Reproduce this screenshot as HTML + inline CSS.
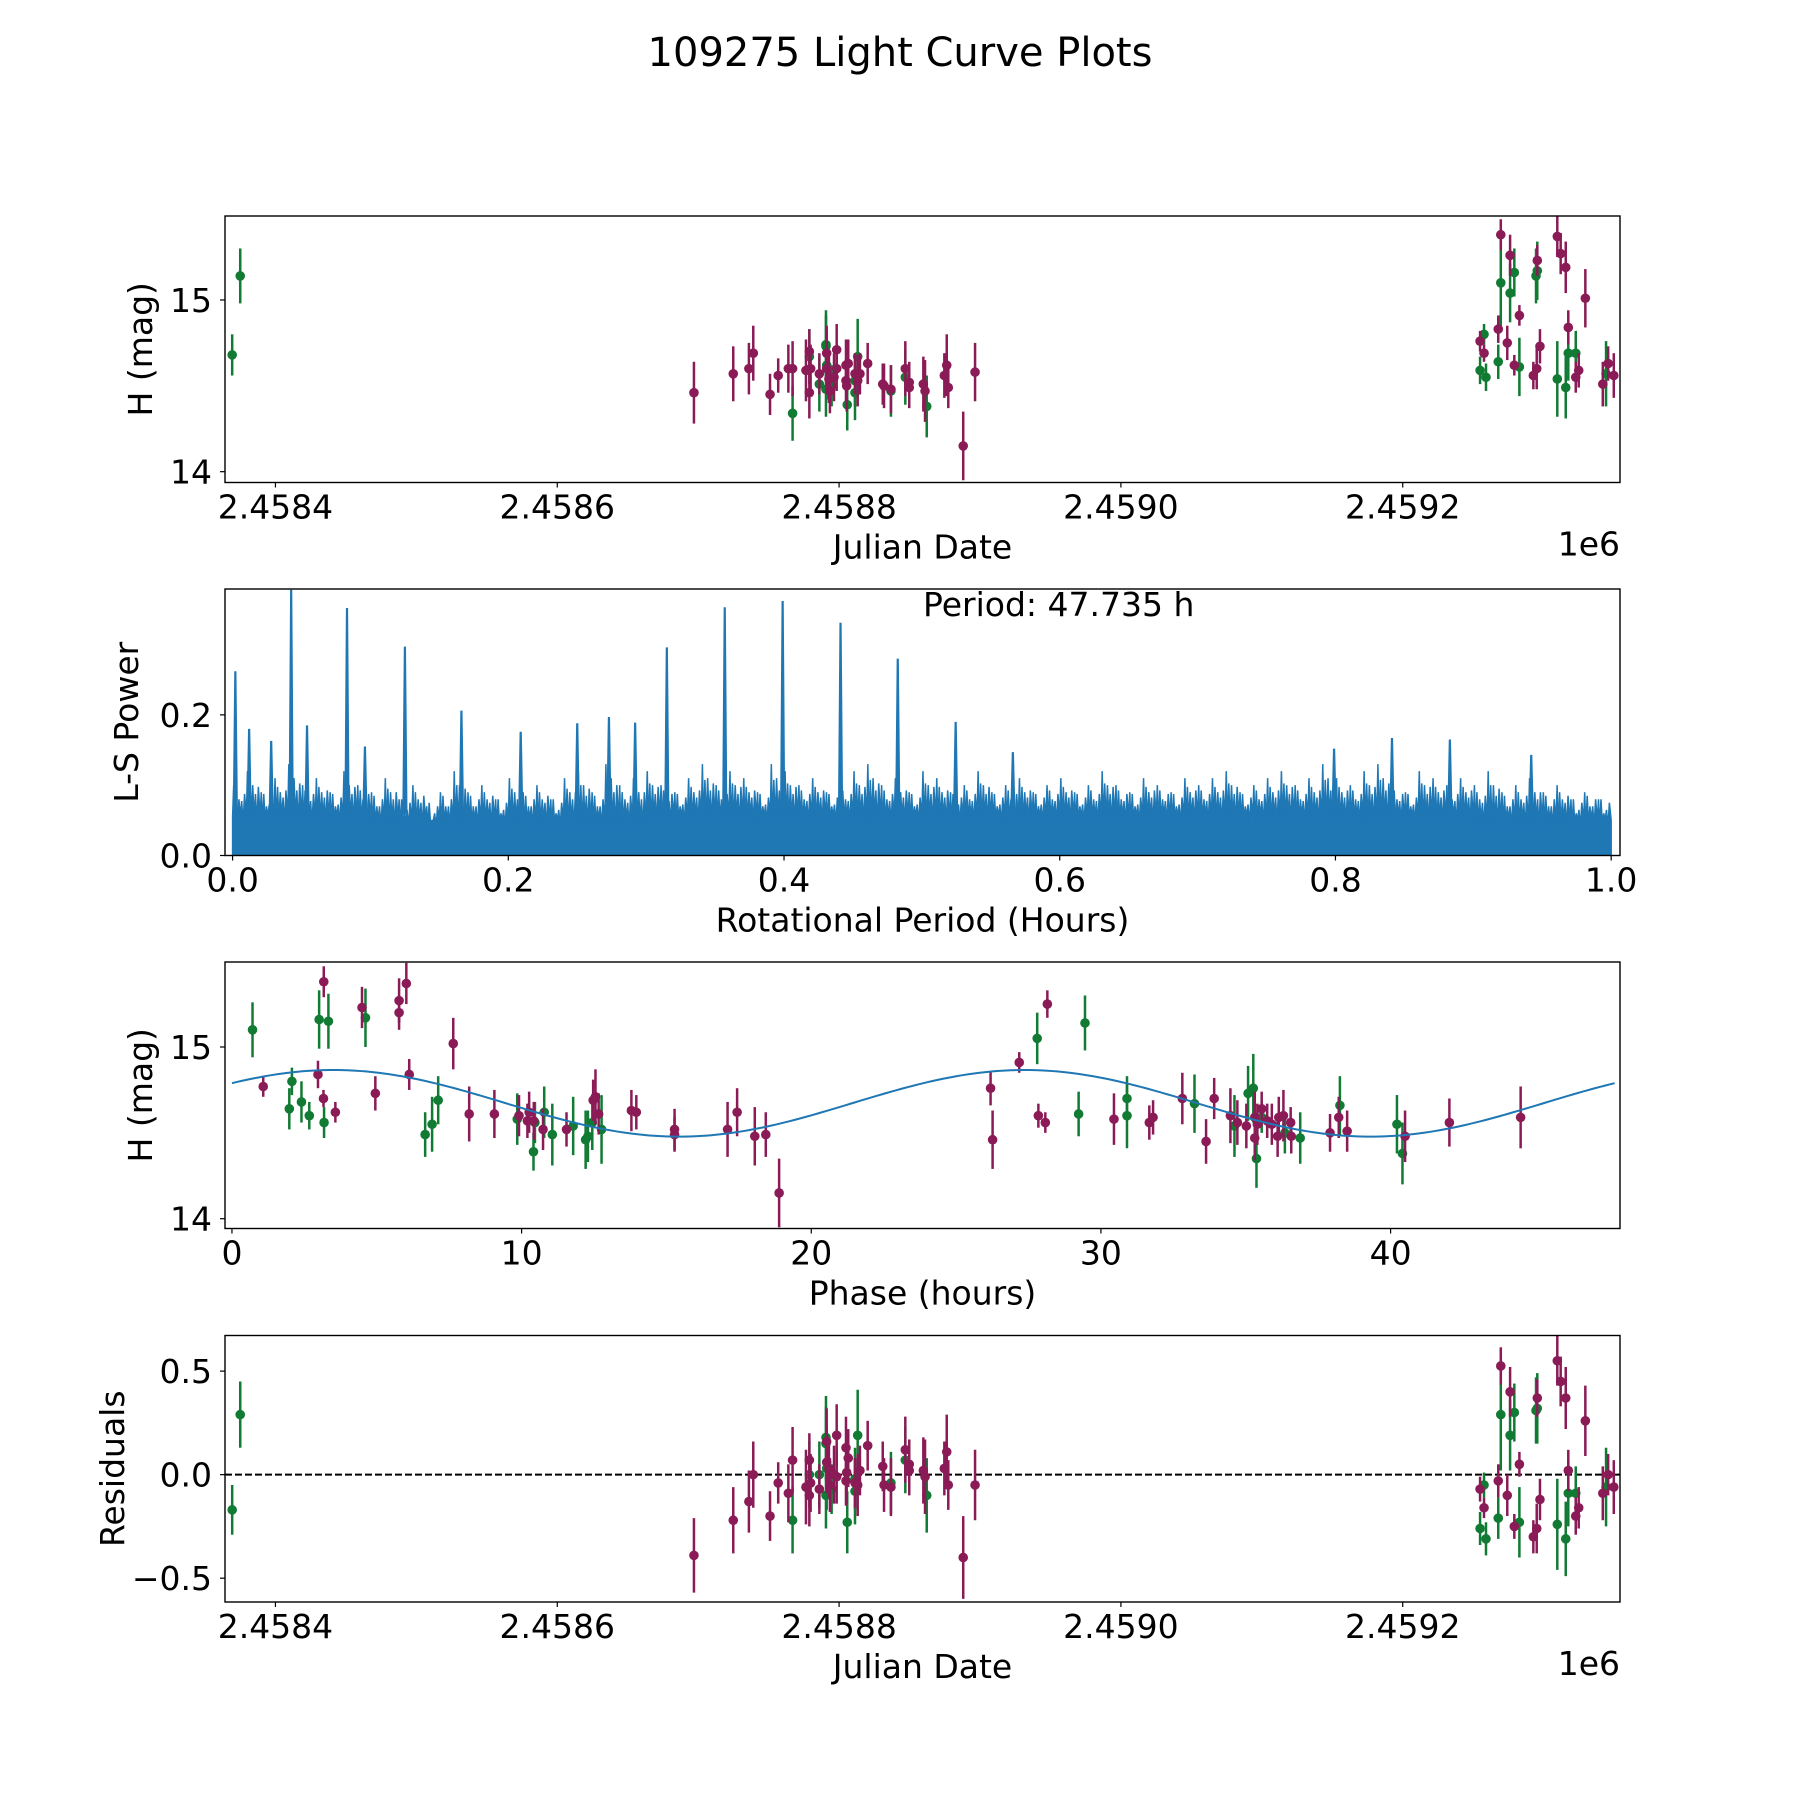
<!DOCTYPE html>
<html><head><meta charset="utf-8"><title>109275 Light Curve Plots</title>
<style>
html,body{margin:0;padding:0;background:#fff;}
svg{display:block;font-family:"DejaVu Sans","Liberation Sans",sans-serif;}
</style></head>
<body>
<svg id="fig" width="1800" height="1800" viewBox="0 0 1800 1800" xmlns="http://www.w3.org/2000/svg">
<rect width="1800" height="1800" fill="#fff"/>
<text x="900" y="66" font-size="40" text-anchor="middle" fill="#000">109275 Light Curve Plots</text>
</svg>
<script>
// ---------- DATA ----------
const lcBand = ["g","g",
"m","m","m","m","m","m","m","m","g","m","g","m","m","m","m","g","g","g","m","g","m","g","m","m","g","m","m","m","m","m","m","m","g","g","m","g","g","m","m","m","m","m","g","m","g","m","m","m","m","m","g","m","m","m","m","m",
"m","g","m","g","g","m","m","g","g","m","m","m","m","m","g","g","m","m","g","g","m","m","m","g","m","m","m","g","g","m","g","m","g","m","g","m","m"];
const lcDay = [-30.7,-25.0,
297,324.9,336,339.1,351,356.8,364,367,367,378.9,378.9,376.5,379.8,378.9,386,386,390.7,390.7,391.2,391.2,391.2,390.7,393.5,392.8,394.7,396.4,398.3,398.3,404.9,406.5,404.9,405.4,405.8,411.3,411.3,411.3,413.2,414.8,413.2,420.3,431,431.9,436.8,436.8,447,447,449.8,449.8,459.8,461,462.2,474.7,476.4,477.5,488.1,496.5,
869.6,869.6,876.2,876.2,879.2,882.8,895.5,895.5,894.6,909.7,912.1,915.7,929.6,917.5,917.5,922.8,924.9,922.8,909.7,915.7,897.4,895.1,892.7,882.8,879.2,874.2,867.8,867.8,859.1,857.7,857.7,854.9,854.9,942,944.3,945.8,949.8];
const lcMag = [14.68,15.14,
14.46,14.57,14.60,14.69,14.45,14.56,14.60,14.60,14.34,14.70,14.67,14.59,14.60,14.46,14.57,14.51,14.74,14.73,14.69,14.62,14.60,14.48,14.47,14.54,14.50,14.55,14.71,14.60,14.62,14.63,14.53,14.50,14.39,14.46,14.57,14.53,14.67,14.57,14.53,14.63,14.51,14.50,14.47,14.48,14.55,14.60,14.52,14.49,14.51,14.47,14.38,14.56,14.62,14.49,14.15,14.58,
15.38,15.10,15.26,15.04,15.16,14.91,15.23,15.17,15.14,15.37,15.27,15.19,15.01,14.84,14.69,14.69,14.59,14.55,14.54,14.49,14.73,14.60,14.56,14.61,14.62,14.75,14.83,14.64,14.55,14.69,14.80,14.76,14.59,14.51,14.57,14.63,14.56];
const lcErr = [0.12,0.16,
0.18,0.16,0.15,0.16,0.12,0.10,0.14,0.16,0.16,0.13,0.16,0.18,0.14,0.15,0.12,0.16,0.20,0.18,0.16,0.20,0.15,0.16,0.13,0.14,0.12,0.14,0.15,0.13,0.15,0.14,0.12,0.15,0.15,0.16,0.12,0.15,0.22,0.12,0.15,0.12,0.12,0.13,0.15,0.14,0.16,0.16,0.12,0.12,0.16,0.18,0.18,0.13,0.18,0.12,0.20,0.17,
0.09,0.27,0.12,0.17,0.14,0.06,0.09,0.17,0.16,0.12,0.12,0.15,0.17,0.10,0.16,0.13,0.10,0.09,0.22,0.18,0.10,0.12,0.08,0.17,0.06,0.10,0.08,0.10,0.08,0.05,0.06,0.06,0.08,0.13,0.19,0.10,0.13];
const lcResid = [-0.17,0.29,
-0.39,-0.22,-0.13,0.00,-0.20,-0.04,-0.09,0.07,-0.22,0.07,0.00,-0.06,-0.04,-0.10,-0.07,0.00,0.18,0.15,0.16,0.03,0.06,-0.10,-0.05,0.03,-0.07,0.00,0.19,-0.01,0.13,0.08,-0.03,0.01,-0.23,-0.08,-0.04,-0.02,0.19,0.02,-0.05,0.14,0.04,-0.05,-0.04,-0.06,0.07,0.12,0.05,0.02,0.02,-0.01,-0.10,0.03,0.11,-0.05,-0.40,-0.05,
0.525,0.29,0.40,0.19,0.30,0.05,0.37,0.32,0.31,0.55,0.45,0.37,0.26,0.02,-0.09,-0.09,-0.16,-0.20,-0.24,-0.31,-0.12,-0.26,-0.30,-0.23,-0.25,-0.10,-0.03,-0.21,-0.31,-0.16,-0.05,-0.07,-0.26,-0.09,-0.06,0.00,-0.06];
const jdTicks = [2458400,2458600,2458800,2459000,2459200];
const jdTickLabels = ["2.4584","2.4586","2.4588","2.4590","2.4592"];

const phBand = ["g","m","g","g","g","g","m","g","m","m","g","g","m","m","g","m","m","m","m","m","g","g","g","m","m","m","g","m","m","m","m","g","g","g","m","g","m","g","g","g","g","m","m","m","g","m","m","m","m","m","m","m","m","m",
"m","m","m","g","m","m","m","g","g","m","g","g","m","m","m","g","m","m","m","g","m","m","g","g","m","m","g","m","m","g","m","m","m","m","m","g","m","m","g","m","m","g","m","g","g","m","m","m"];
const phHour = [0.71,1.08,1.98,2.07,2.40,2.67,2.97,3.01,3.17,3.16,3.18,3.33,3.57,4.49,4.61,4.95,5.77,5.77,6.02,6.12,6.67,6.91,7.12,7.64,8.19,9.06,9.85,9.91,10.2,10.26,10.42,10.46,10.41,10.78,10.74,11.06,11.55,11.78,12.21,12.29,12.44,12.47,12.55,12.66,12.76,13.79,13.96,15.28,15.28,17.11,17.44,18.05,18.43,18.89,
26.19,26.26,27.18,27.80,28.15,27.84,28.08,29.23,29.45,30.45,30.90,30.90,31.67,31.80,32.81,33.23,33.63,33.91,34.47,34.61,34.71,35.02,35.08,35.26,35.31,35.31,35.37,35.40,35.55,35.55,35.74,35.90,36.10,36.14,36.30,36.35,36.55,36.57,36.88,37.91,38.21,38.25,38.50,40.22,40.41,40.50,42.03,44.49];
const phMag = [15.10,14.77,14.64,14.80,14.68,14.60,14.84,15.16,15.38,14.70,14.56,15.15,14.62,15.23,15.17,14.73,15.27,15.20,15.37,14.84,14.49,14.55,14.69,15.02,14.61,14.61,14.58,14.60,14.57,14.62,14.57,14.56,14.39,14.62,14.52,14.49,14.52,14.54,14.46,14.48,14.56,14.69,14.71,14.61,14.52,14.63,14.62,14.52,14.49,14.52,14.62,14.48,14.49,14.15,
14.76,14.46,14.91,15.05,15.25,14.60,14.56,14.61,15.14,14.58,14.70,14.60,14.56,14.59,14.70,14.67,14.45,14.70,14.60,14.54,14.56,14.54,14.73,14.76,14.59,14.47,14.35,14.55,14.64,14.59,14.57,14.55,14.48,14.59,14.60,14.50,14.56,14.48,14.47,14.50,14.59,14.66,14.51,14.55,14.38,14.48,14.56,14.59];
const phErr = [0.16,0.06,0.12,0.08,0.12,0.08,0.08,0.17,0.09,0.05,0.09,0.16,0.06,0.12,0.17,0.10,0.13,0.10,0.12,0.09,0.13,0.16,0.14,0.15,0.16,0.14,0.15,0.12,0.10,0.12,0.11,0.12,0.11,0.15,0.12,0.18,0.10,0.17,0.17,0.15,0.16,0.12,0.16,0.12,0.20,0.12,0.10,0.12,0.10,0.16,0.14,0.17,0.13,0.20,
0.10,0.17,0.06,0.15,0.08,0.07,0.06,0.13,0.16,0.15,0.13,0.19,0.10,0.10,0.15,0.17,0.13,0.12,0.16,0.18,0.13,0.13,0.16,0.20,0.15,0.13,0.17,0.12,0.10,0.09,0.10,0.12,0.12,0.12,0.15,0.12,0.09,0.10,0.15,0.11,0.12,0.17,0.12,0.17,0.18,0.15,0.14,0.18];
const phaseTicks = [0,10,20,30,40];
const fitPeriod = 47.735;
const fitMean = 14.672;
const fitAmp = 0.194;
const fitPeakHour = 3.5;

const lsSpikeX = [0.002,0.012,0.028,0.0425,0.054,0.083,0.096,0.125,0.166,0.209,0.250,0.273,0.292,0.315,0.357,0.399,0.441,0.4825,0.5245,0.566,0.799,0.841,0.883,0.942];
const lsSpikeH = [0.262,0.180,0.163,0.378,0.185,0.352,0.155,0.297,0.206,0.176,0.188,0.197,0.189,0.296,0.353,0.362,0.331,0.280,0.190,0.147,0.152,0.167,0.165,0.143];
const lsNoisePeak = [0.10,0.12,0.09,0.11,0.13,0.10,0.11,0.09,0.12,0.10,
0.09,0.11,0.08,0.10,0.07,0.09,0.12,0.09,0.10,0.08,
0.11,0.09,0.10,0.08,0.11,0.12,0.09,0.13,0.10,0.11,
0.12,0.10,0.09,0.11,0.13,0.10,0.12,0.11,0.09,0.13,
0.12,0.10,0.11,0.09,0.10,0.12,0.13,0.10,0.11,0.09,
0.12,0.11,0.09,0.10,0.12,0.09,0.10,0.11,0.09,0.10,
0.11,0.09,0.10,0.12,0.10,0.09,0.11,0.10,0.09,0.11,
0.10,0.11,0.12,0.09,0.10,0.11,0.12,0.10,0.11,0.13,
0.11,0.10,0.12,0.13,0.10,0.09,0.12,0.11,0.10,0.11,
0.10,0.12,0.09,0.10,0.11,0.09,0.10,0.08,0.09,0.08];
const lsBandLevel = [0.055,0.05,0.05,0.055,0.055,0.055,0.055,0.055,0.055,0.05];
const lsXTicks = [0,0.2,0.4,0.6,0.8,1.0];
const lsXTickLabels = ["0.0","0.2","0.4","0.6","0.8","1.0"];
const lsYTicks = [0,0.2];
const lsYTickLabels = ["0.0","0.2"];
const bestPeriodText = "Period: 47.735 h";

// ---------- RENDER ----------
const NS = "http://www.w3.org/2000/svg";
const svg = document.getElementById("fig");
const COL = {m:"#8a1b56", g:"#117a33"};
function mk(tag, attrs, parent){
  const e = document.createElementNS(NS, tag);
  for (const k in attrs) e.setAttribute(k, attrs[k]);
  (parent||svg).appendChild(e);
  return e;
}
function makeAxes(cfg){
  const a = Object.assign({}, cfg);
  a.sx = v => a.l + (v - a.x0) / (a.x1 - a.x0) * (a.r - a.l);
  a.sy = v => a.b - (v - a.y0) / (a.y1 - a.y0) * (a.b - a.t);
  a.g = mk("g", {});
  
  
  const cp = mk("clipPath", {id: cfg.name + "-clip"}, a.g);
  mk("rect", {x: a.l, y: a.t, width: a.r - a.l, height: a.b - a.t}, cp);
  a.plot = mk("g", {"clip-path": "url(#" + cfg.name + "-clip)"}, a.g);
  
  
  return a;
}
function frame(a){
  const r = mk("rect", {x: a.l, y: a.t, width: a.r - a.l, height: a.b - a.t, fill: "none", stroke: "#000", "stroke-width": 1.4}, a.g);
  
  
}
function xTicks(a, vals, labels){
  vals.forEach((v, i) => {
    const x = a.sx(v);
    const t = mk("line", {x1: x, x2: x, y1: a.b, y2: a.b + 5, stroke: "#000", "stroke-width": 1.2}, a.g);
    
    
    const tx = mk("text", {x: x, y: a.b + 36, "font-size": 33, "text-anchor": "middle", fill: "#000"}, a.g);
    tx.textContent = labels[i];
    
    
  });
}
function yTicks(a, vals, labels){
  vals.forEach((v, i) => {
    const y = a.sy(v);
    const t = mk("line", {x1: a.l - 5, x2: a.l, y1: y, y2: y, stroke: "#000", "stroke-width": 1.2}, a.g);
    
    
    const tx = mk("text", {x: a.l - 13, y: y + 12, "font-size": 33, "text-anchor": "end", fill: "#000"}, a.g);
    tx.textContent = labels[i];
    
    
  });
}
function xLabel(a, txt){
  const t = mk("text", {x: (a.l + a.r) / 2, y: a.b + 76, "font-size": 33, "text-anchor": "middle", fill: "#000"}, a.g);
  t.textContent = txt;
  
  
}
function yLabel(a, txt, x){
  const cy = (a.t + a.b) / 2;
  const t = mk("text", {x: x, y: cy, "font-size": 33, "text-anchor": "middle", fill: "#000", transform: "rotate(-90 " + x + " " + cy + ")"}, a.g);
  t.textContent = txt;
  
  
}
function offsetText(a){
  const t = mk("text", {x: a.r, y: a.b + 73, "font-size": 33, "text-anchor": "end", fill: "#000"}, a.g);
  t.textContent = "1e6";
  
  
}
function errPoints(a, xs, ys, es, bands, name){
  const order = [];
  bands.forEach((b, i) => { if (b === "g") order.push(i); });
  bands.forEach((b, i) => { if (b === "m") order.push(i); });
  order.forEach(i => {
    const x = a.sx(xs[i]), y = a.sy(ys[i]);
    const c = COL[bands[i]];
    const grp = mk("g", {}, a.plot);
    
    
    mk("line", {x1: x, x2: x, y1: a.sy(ys[i] - es[i]), y2: a.sy(ys[i] + es[i]), stroke: c, "stroke-width": 2.5}, grp);
    mk("circle", {cx: x, cy: y, r: 4.8, fill: c}, grp);
  });
}

// Axes 1
const ax1 = makeAxes({name: "raw-light-curve-axes", l: 225, r: 1620, t: 216, b: 482.5, x0: 2458364.2, x1: 2459354.2, y0: 13.937, y1: 15.489});
errPoints(ax1, lcDay.map(d => 2458400 + d), lcMag, lcErr, lcBand, "raw-mag");
frame(ax1);
xTicks(ax1, jdTicks, jdTickLabels);
yTicks(ax1, [14, 15], ["14", "15"]);
xLabel(ax1, "Julian Date");
yLabel(ax1, "H (mag)", 152);
offsetText(ax1);

// Axes 2: periodogram
const ax2 = makeAxes({name: "periodogram-axes", l: 225, r: 1620, t: 589, b: 855.5, x0: -0.0055, x1: 1.0064, y0: 0, y1: 0.379});
(function(){
  let d = "M" + ax2.sx(0) + "," + ax2.sy(0);
  lsNoisePeak.forEach((p, i) => {
    const x0 = i * 0.01;
    const b = lsBandLevel[Math.floor(i / 10)];
    const q = (p + b) / 2;
    d += " L" + ax2.sx(x0) + "," + ax2.sy(b);
    d += " L" + ax2.sx(x0 + 0.0008) + "," + ax2.sy(p);
    d += " L" + ax2.sx(x0 + 0.0016) + "," + ax2.sy(b - 0.01);
    d += " L" + ax2.sx(x0 + 0.0026) + "," + ax2.sy(q + 0.015);
    d += " L" + ax2.sx(x0 + 0.0036) + "," + ax2.sy(b - 0.005);
    d += " L" + ax2.sx(x0 + 0.0046) + "," + ax2.sy(p - 0.02);
    d += " L" + ax2.sx(x0 + 0.0056) + "," + ax2.sy(b);
    d += " L" + ax2.sx(x0 + 0.0066) + "," + ax2.sy(q);
    d += " L" + ax2.sx(x0 + 0.0076) + "," + ax2.sy(b - 0.01);
    d += " L" + ax2.sx(x0 + 0.0087) + "," + ax2.sy(q + 0.01);
    d += " L" + ax2.sx(x0 + 0.01) + "," + ax2.sy(b);
  });
  d += " L" + ax2.sx(1.0) + "," + ax2.sy(0) + " Z";
  const n = mk("path", {d: d, fill: "#1f77b4", stroke: "#1f77b4", "stroke-width": 1.5, "stroke-linejoin": "miter"}, ax2.plot);
  
  
  lsSpikeX.forEach((x, i) => {
    const px = ax2.sx(x);
    const s = mk("path", {d: "M" + (px - 1.5) + "," + ax2.sy(0.06) + " L" + px + "," + ax2.sy(lsSpikeH[i]) + " L" + (px + 1.5) + "," + ax2.sy(0.06) + " Z", fill: "#1f77b4", stroke: "#1f77b4", "stroke-width": 2.2}, ax2.plot);
    
    
  });
})();
frame(ax2);
xTicks(ax2, lsXTicks, lsXTickLabels);
yTicks(ax2, lsYTicks, lsYTickLabels);
xLabel(ax2, "Rotational Period (Hours)");
yLabel(ax2, "L-S Power", 138);
(function(){
  const t = mk("text", {x: 923, y: 616, "font-size": 33, fill: "#000"}, ax2.g);
  t.textContent = bestPeriodText;
  
  
})();

// Axes 3
const ax3 = makeAxes({name: "phase-folded-axes", l: 225, r: 1620, t: 962, b: 1228.5, x0: -0.24, x1: 47.92, y0: 13.943, y1: 15.495});
errPoints(ax3, phHour, phMag, phErr, phBand, "phase-mag");
(function(){
  let d = "";
  for (let k = 0; k <= 300; k++){
    const p = fitPeriod * k / 300;
    const m = fitMean + fitAmp * Math.cos(2 * Math.PI * (p - fitPeakHour) / (fitPeriod / 2));
    d += (k ? " L" : "M") + ax3.sx(p).toFixed(2) + "," + ax3.sy(m).toFixed(2);
  }
  const c = mk("path", {d: d, fill: "none", stroke: "#1f77b4", "stroke-width": 2}, ax3.plot);
  
  
})();
frame(ax3);
xTicks(ax3, phaseTicks, phaseTicks.map(String));
yTicks(ax3, [14, 15], ["14", "15"]);
xLabel(ax3, "Phase (hours)");
yLabel(ax3, "H (mag)", 152);

// Axes 4
const ax4 = makeAxes({name: "residuals-axes", l: 225, r: 1620, t: 1335.5, b: 1602, x0: 2458364.2, x1: 2459354.2, y0: -0.615, y1: 0.672});
(function(){
  const z = mk("line", {x1: ax4.l, x2: ax4.r, y1: ax4.sy(0), y2: ax4.sy(0), stroke: "#000", "stroke-width": 2, "stroke-dasharray": "7,3"}, ax4.plot);
  
  
})();
errPoints(ax4, lcDay.map(d => 2458400 + d), lcResid, lcErr, lcBand, "residual");
frame(ax4);
xTicks(ax4, jdTicks, jdTickLabels);
yTicks(ax4, [-0.5, 0, 0.5], ["\u22120.5", "0.0", "0.5"]);
xLabel(ax4, "Julian Date");
yLabel(ax4, "Residuals", 124);
offsetText(ax4);
</script>
</body></html>
